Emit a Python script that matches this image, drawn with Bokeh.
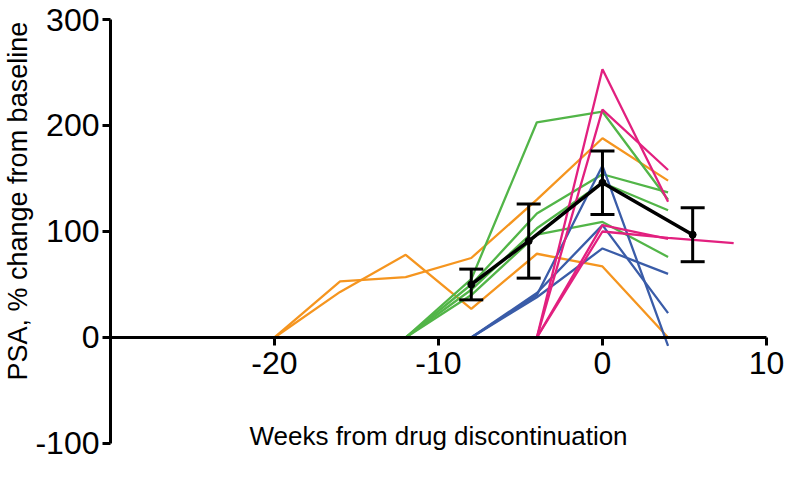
from bokeh.plotting import figure
from bokeh.models import FixedTicker, Whisker, TeeHead, ColumnDataSource, Range1d, Title
from bokeh.embed import file_html
from bokeh.resources import INLINE

# ---- data ----
x_ticks = [-20, -10, 0, 10]
y_ticks = [-100, 0, 100, 200, 300]

orange_x = [-20, -16, -12, -8, -4, 0, 4]
orange_1_y = [0, 53, 57, 75, 130, 188, 148]
orange_2_y = [0, 43, 78, 27, 79, 67, 0]

green_x = [-12, -8, -4, 0, 4]
green_1_y = [0, 55, 203, 213, 130]
green_2_y = [0, 50, 117, 154, 137]
green_3_y = [0, 45, 103, 146, 120]
green_4_y = [0, 40, 97, 109, 76]

blue_x = [-8, -4, 0, 4]
blue_1_y = [0, 40, 162, -8]
blue_2_y = [0, 42, 106, 23]
blue_3_y = [0, 38, 84, 60]

pink_x = [-4, 0, 4]
pink_1_y = [0, 253, 128]
pink_2_y = [0, 215, 158]
pink_3_y = [0, 106, 93]
pink_4_x = [-4, 0, 4, 8]
pink_4_y = [0, 100, 94, 89]

mean_x = [-8, -4.5, 0, 5.5]
mean_y = [50, 91, 146, 97]
mean_err = [14.5, 35, 30, 25.5]

ORANGE = "#F5951F"
GREEN = "#52B548"
BLUE = "#3A5CA8"
PINK = "#E2207F"
FONT = "Liberation Sans"

p = figure(width=784, height=461,
           x_range=Range1d(-30, 11.1), y_range=Range1d(-117, 300),
           output_backend="svg", toolbar_location=None,
           min_border_left=110, min_border_right=0,
           min_border_top=19, min_border_bottom=0)
p.outline_line_color = None
p.grid.visible = False

# x axis crossing at y = 0
xa = p.xaxis[0]
xa.fixed_location = 0
xa.bounds = (-30, 10)
xa.ticker = FixedTicker(ticks=x_ticks)
xa.major_label_overrides = {t: str(t) for t in x_ticks}
xa.axis_line_width = 3
xa.axis_line_color = "black"
xa.major_tick_line_width = 3
xa.major_tick_line_color = "black"
xa.major_tick_out = 8
xa.major_tick_in = 0
xa.minor_tick_line_color = None
xa.major_label_text_font = FONT
xa.major_label_text_font_size = "32px"
xa.major_label_text_color = "black"
xa.major_label_standoff = 7
xa.axis_label = "Weeks from drug discontinuation"
xa.axis_label_text_font = FONT
xa.axis_label_text_font_size = "26px"
xa.axis_label_text_font_style = "normal"
xa.axis_label_text_color = "black"
xa.axis_label_standoff = 43

ya = p.yaxis[0]
ya.bounds = (-100, 300)
ya.ticker = FixedTicker(ticks=y_ticks)
ya.major_label_overrides = {t: str(t) for t in y_ticks}
ya.axis_line_width = 3
ya.axis_line_color = "black"
ya.major_tick_line_width = 3
ya.major_tick_line_color = "black"
ya.major_tick_out = 8
ya.major_tick_in = 0
ya.minor_tick_line_color = None
ya.major_label_text_font = FONT
ya.major_label_text_font_size = "32px"
ya.major_label_text_color = "black"
ya.major_label_standoff = 3

p.add_layout(Title(text="PSA, % change from baseline", align="left", offset=81,
                   text_font=FONT, text_font_size="27px", text_font_style="normal",
                   text_color="black", standoff=0), "left")

LW = 2.3
for ys in (orange_1_y, orange_2_y):
    p.line(orange_x, ys, line_color=ORANGE, line_width=LW)
for ys in (green_1_y, green_2_y, green_3_y, green_4_y):
    p.line(green_x, ys, line_color=GREEN, line_width=LW)
for ys in (blue_1_y, blue_2_y, blue_3_y):
    p.line(blue_x, ys, line_color=BLUE, line_width=LW)
for ys in (pink_1_y, pink_2_y, pink_3_y):
    p.line(pink_x, ys, line_color=PINK, line_width=LW)
p.line(pink_4_x, pink_4_y, line_color=PINK, line_width=LW)

src = ColumnDataSource(data=dict(
    x=mean_x, y=mean_y,
    upper=[m + e for m, e in zip(mean_y, mean_err)],
    lower=[m - e for m, e in zip(mean_y, mean_err)],
))
p.line("x", "y", source=src, line_color="black", line_width=3.5)
p.scatter("x", "y", source=src, size=7, color="black")
w = Whisker(base="x", upper="upper", lower="lower", source=src,
            line_width=3, line_color="black", level="overlay",
            upper_head=TeeHead(size=24, line_width=3, line_color="black"),
            lower_head=TeeHead(size=24, line_width=3, line_color="black"))
p.add_layout(w)

open("out.html", "w").write(file_html(p, INLINE))
